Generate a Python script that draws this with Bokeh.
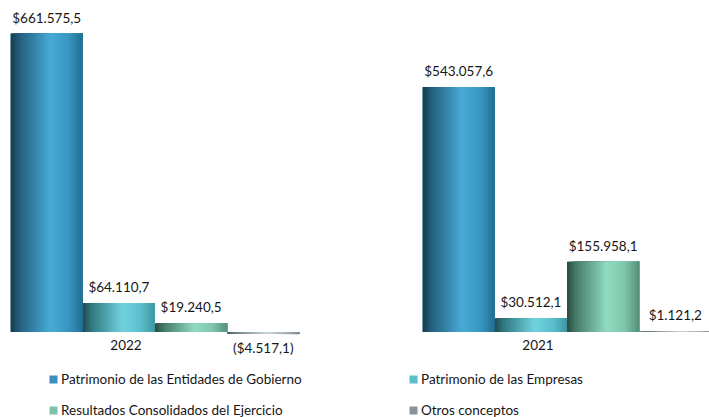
import numpy as np
from bokeh.plotting import figure
from bokeh.models import ColumnDataSource, Range1d, Legend, LegendItem
from bokeh.core.properties import value
from bokeh.embed import file_html
from bokeh.resources import INLINE

# ---------------- data ----------------
years = ["2022", "2021"]
series_names = [
    "Patrimonio de las Entidades de Gobierno",
    "Patrimonio de las Empresas",
    "Resultados Consolidados del Ejercicio",
    "Otros conceptos",
]
patrimonio_gobierno = [661575.5, 543057.6]
patrimonio_empresas = [64110.7, 30512.1]
resultados_ejercicio = [19240.5, 155958.1]
otros_conceptos = [-4517.1, 1121.2]
series_values = [patrimonio_gobierno, patrimonio_empresas, resultados_ejercicio, otros_conceptos]

# ---------------- styles ----------------
legend_colors = ["#3a8fc0", "#5bbdca", "#7cc3a7", "#86959a"]
grad_stops = [0.0, 0.12, 0.55, 0.8, 1.0]
grad_colors = [
    ["#163a4c", "#235f7e", "#47abd6", "#3996c0", "#246e90"],
    ["#1f4b50", "#2f7880", "#70d3de", "#5cbfcc", "#3e96a2"],
    ["#2a4a40", "#447a68", "#90dcc1", "#7ec6ac", "#558f7a"],
    ["#4a5860", "#708088", "#c8d4d8", "#a8b4b8", "#7a888e"],
]
FONT = "Lato"
TEXT_COLOR = "#161616"
N_STRIPS = 36
BAR_W = 0.1752


def hex_to_rgb(h):
    h = h.lstrip("#")
    return np.array([int(h[i:i + 2], 16) for i in (0, 2, 4)], dtype=float)


def rgb_to_hex(c):
    return "#%02x%02x%02x" % tuple(int(round(v)) for v in c)


def fmt(v):
    s = f"{abs(v):,.1f}".replace(",", "X").replace(".", ",").replace("X", ".")
    return f"(${s})" if v < 0 else f"${s}"


# ---------------- figure ----------------
W, H = 709, 417
x0 = -154.5 / 412
x1 = x0 + W / 412
k = 298.5 / 661575.5
ymax = 331.5 / k
ymin = -(H - 331.5) / k

p = figure(width=W, height=H, output_backend="svg", toolbar_location=None,
           x_range=Range1d(x0, x1), y_range=Range1d(ymin, ymax),
           x_axis_location=None, y_axis_location=None, min_border=0)
p.grid.visible = False
p.outline_line_color = None
p.background_fill_color = "white"

# solid base bars (also used for legend)
base_renderers = []
for si, vals in enumerate(series_values):
    xs = [gi + (si - 1.5) * BAR_W for gi in range(len(vals))]
    src = ColumnDataSource(dict(x=xs, top=[max(v, 0) for v in vals], bottom=[min(v, 0) for v in vals]))
    r = p.vbar(x="x", top="top", bottom="bottom", width=BAR_W, source=src,
               fill_color=legend_colors[si], line_color=None)
    base_renderers.append(r)

# gradient overlay: layered strips, each reaching to the bar's right edge
ql, qr, qt, qb, qc = [], [], [], [], []
for si, vals in enumerate(series_values):
    rgbs = np.array([hex_to_rgb(c) for c in grad_colors[si]])
    ts = (np.arange(N_STRIPS) + 0.5) / N_STRIPS
    cols = [rgb_to_hex([np.interp(t, grad_stops, rgbs[:, ch]) for ch in range(3)]) for t in ts]
    for gi, v in enumerate(vals):
        center = gi + (si - 1.5) * BAR_W
        left = center - BAR_W / 2
        right = center + BAR_W / 2
        for j in range(N_STRIPS):
            ql.append(left + j * BAR_W / N_STRIPS)
            qr.append(right)
            qt.append(max(v, 0))
            qb.append(min(v, 0))
            qc.append(cols[j])
grad = ColumnDataSource(dict(left=ql, right=qr, top=qt, bottom=qb, color=qc))
p.quad(left="left", right="right", top="top", bottom="bottom", source=grad,
       fill_color="color", line_color=None)

# value labels
lx, ly, ltxt, loff = [], [], [], []
for si, vals in enumerate(series_values):
    for gi, v in enumerate(vals):
        lx.append(gi + (si - 1.5) * BAR_W)
        ly.append(v)
        ltxt.append(fmt(v))
        loff.append(14 if v < 0 else -16)
labels = ColumnDataSource(dict(x=lx, y=ly, text=ltxt, yoff=loff))
p.text(x="x", y="y", text="text", y_offset="yoff", source=labels,
       text_align="center", text_baseline="middle",
       text_font=value(FONT), text_font_size="13.5px", text_color=TEXT_COLOR)

# category labels
cats = ColumnDataSource(dict(x=list(range(len(years))), y=[0] * len(years), text=years))
p.text(x="x", y="y", text="text", source=cats, x_offset=-29, y_offset=13,
       text_align="center", text_baseline="middle",
       text_font=value(FONT), text_font_size="13.5px", text_color=TEXT_COLOR)

# legend
items = [LegendItem(label=name, renderers=[base_renderers[si]], index=0)
         for si, name in enumerate(series_names)]
legend = Legend(items=items, orientation="horizontal", ncols=2, location=(48, -1),
                glyph_width=10, glyph_height=10, label_standoff=3, label_width=332,
                label_height=10, spacing=15, padding=0, margin=0,
                border_line_color=None, background_fill_alpha=0,
                label_text_font=FONT, label_text_font_size="13.5px",
                label_text_color=TEXT_COLOR, label_text_baseline="middle")
p.add_layout(legend)

open("out.html", "w").write(file_html(p, INLINE))
